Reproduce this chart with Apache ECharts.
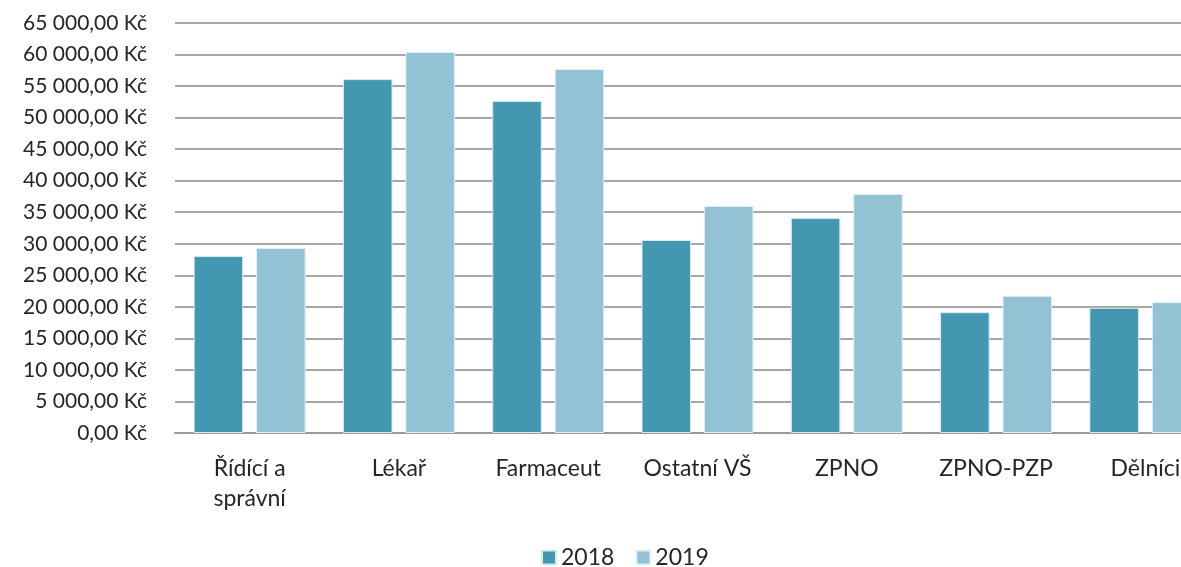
<!DOCTYPE html>
<html>
<head>
<meta charset="utf-8">
<script src="https://cdn.jsdelivr.net/npm/echarts@6/dist/echarts.min.js"></script>
<style>
html, body { margin: 0; padding: 0; background: #fff; }
#chart { width: 1181px; height: 567px; }
</style>
</head>
<body>
<div id="chart"></div>
<script>
var categories = ['Řídící a\nsprávní', 'Lékař', 'Farmaceut', 'Ostatní VŠ', 'ZPNO', 'ZPNO-PZP', 'Dělníci'];
var values2018 = [28050, 56100, 52650, 30600, 34100, 19150, 19850];
var values2019 = [29350, 60400, 57700, 36000, 37900, 21750, 20750];
var seriesNames = ['2018', '2019'];

function formatKc(v) {
    var s = Math.round(v).toString().replace(/\B(?=(\d{3})+(?!\d))/g, ' ');
    return s + ',00 Kč';
}

var myChart = echarts.init(document.getElementById('chart'));
var option = {
    animation: false,
    textStyle: { fontFamily: 'Lato' },
    legend: {
        left: 536,
        top: 541,
        itemWidth: 14,
        itemHeight: 14,
        itemGap: 21,
        icon: 'rect',
        textStyle: { fontSize: 23, color: '#262626', fontFamily: 'Lato' },
        data: seriesNames
    },
    grid: {
        left: 175,
        top: 23,
        right: -39,
        bottom: 134,
        outerBoundsMode: 'none',
        containLabel: false
    },
    xAxis: {
        type: 'category',
        data: categories,
        axisTick: { show: false },
        axisLine: { lineStyle: { color: '#9a9a9a', width: 2 } },
        axisLabel: {
            interval: 0,
            margin: 21,
            fontSize: 23,
            lineHeight: 30,
            color: '#262626'
        }
    },
    yAxis: {
        type: 'value',
        min: 0,
        max: 65000,
        interval: 5000,
        axisLine: { show: false },
        axisTick: { show: false },
        splitLine: { lineStyle: { color: '#a6a6a6', width: 2 } },
        axisLabel: {
            margin: 28,
            fontSize: 21,
            color: '#262626',
            formatter: formatKc
        }
    },
    series: [
        {
            name: seriesNames[0],
            type: 'bar',
            data: values2018,
            barGap: '26%',
            barCategoryGap: '25%',
            itemStyle: { color: '#4397b0', borderColor: '#d6eaf0', borderWidth: 1 }
        },
        {
            name: seriesNames[1],
            type: 'bar',
            data: values2019,
            itemStyle: { color: '#93c2d4', borderColor: '#e2f0f5', borderWidth: 1 }
        }
    ]
};
myChart.setOption(option);
</script>
</body>
</html>
